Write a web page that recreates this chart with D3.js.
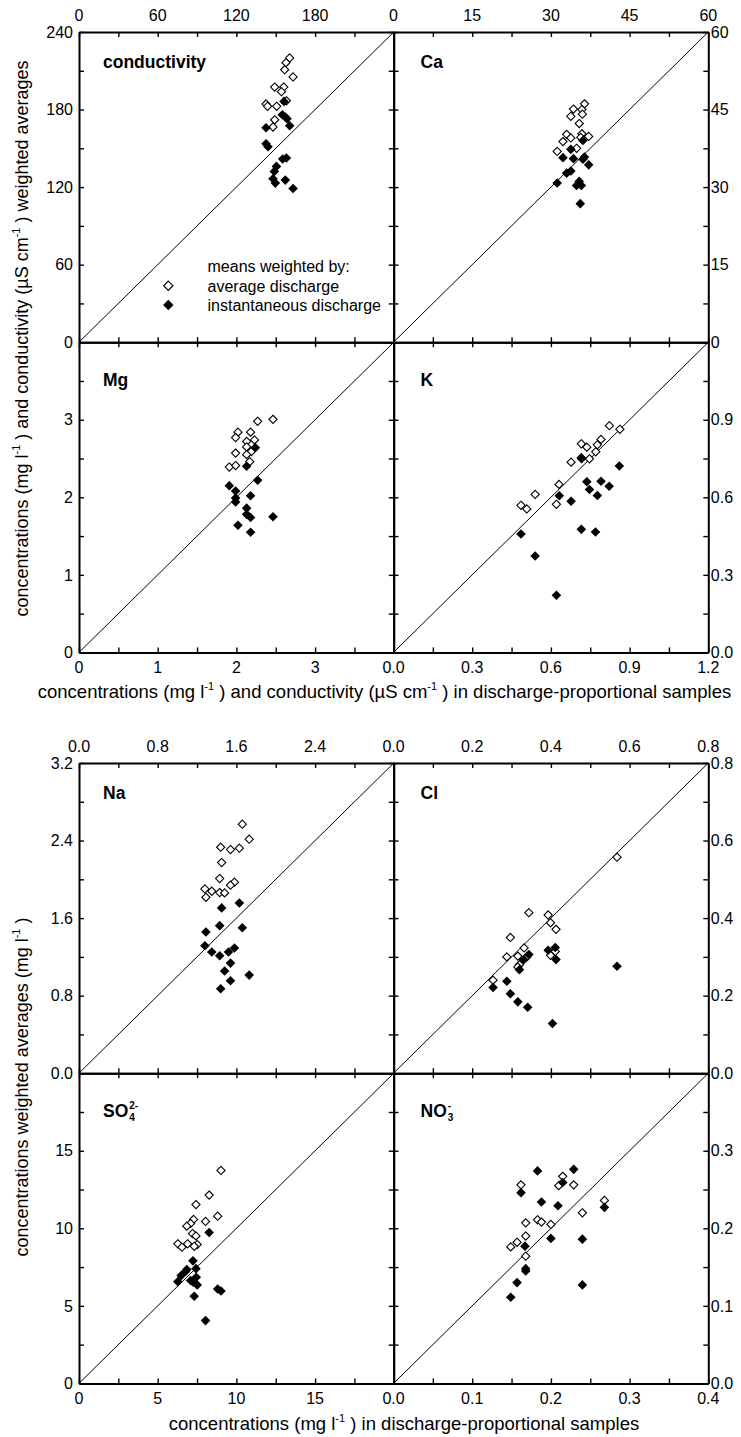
<!DOCTYPE html>
<html><head><meta charset="utf-8">
<script src="https://cdn.jsdelivr.net/npm/d3@7"></script>
<style>
html,body{margin:0;padding:0;background:#fff;}
svg text{font-family:"Liberation Sans",Arial,sans-serif;fill:#000;}
</style></head>
<body>
<svg id="chart" width="741" height="1437"></svg>
<script>
// ---------- data (x: discharge-proportional sample, y: weighted average) ----------
const condAvgX = [160.6,157.8,156.8,163.2,149.2,156.1,154.3,158.1,142.6,143.8,150.7,149.2,147.9];
const condAvgY = [219.9,216.3,210.8,205.2,197.4,197.4,193.8,186.8,184.3,182.5,182.5,172.1,166.5];
const condInstX = [156.3,155.0,157.3,158.6,160.6,142.6,142.6,144.1,155.3,158.1,150.5,148.9,147.9,149.7,157.3,163.2];
const condInstY = [186.3,176.0,174.2,172.9,167.5,165.9,153.5,151.2,141.7,142.5,136.0,132.1,126.5,123.1,125.4,118.9];

const caAvgX = [36.4,34.3,35.9,33.8,36.0,35.4,33.0,32.3,33.8,35.9,35.7,37.2,34.9,31.2];
const caAvgY = [46.1,45.1,45.0,43.7,44.1,42.3,40.2,38.8,39.5,40.3,39.6,39.8,37.5,36.9];
const caInstX = [36.1,33.8,32.3,34.3,36.1,36.4,37.2,33.8,33.0,31.2,35.4,34.9,35.8,35.6];
const caInstY = [39.0,37.3,35.7,35.5,35.4,35.8,34.3,33.1,32.7,30.8,31.1,30.3,30.3,26.8];

const mgAvgX = [2.465,2.27,2.02,2.18,1.99,2.13,2.23,2.13,2.19,1.99,2.13,2.17,1.91,1.99];
const mgAvgY = [3.005,2.98,2.84,2.84,2.77,2.72,2.74,2.65,2.59,2.57,2.55,2.46,2.39,2.41];
const mgInstX = [2.24,2.13,1.91,2.27,1.99,1.99,1.99,2.18,2.13,2.13,2.18,2.465,2.02,2.18];
const mgInstY = [2.64,2.40,2.15,2.22,2.08,1.99,1.94,2.02,1.86,1.78,1.74,1.75,1.64,1.55];

const kAvgX = [0.823,0.863,0.791,0.777,0.716,0.737,0.771,0.716,0.747,0.677,0.631,0.540,0.486,0.508,0.621];
const kAvgY = [0.877,0.863,0.824,0.803,0.807,0.794,0.776,0.753,0.749,0.736,0.650,0.611,0.569,0.555,0.573];
const kInstX = [0.861,0.791,0.737,0.822,0.747,0.777,0.632,0.677,0.716,0.770,0.486,0.540,0.621,0.717];
const kInstY = [0.721,0.662,0.660,0.643,0.630,0.607,0.606,0.585,0.476,0.466,0.458,0.373,0.221,0.749];

const naAvgX = [1.66,1.73,1.44,1.63,1.54,1.45,1.43,1.58,1.54,1.28,1.35,1.43,1.48,1.29];
const naAvgY = [2.569,2.414,2.331,2.321,2.307,2.173,2.008,1.970,1.939,1.901,1.877,1.863,1.860,1.815];
const naInstX = [1.63,1.45,1.43,1.66,1.29,1.28,1.58,1.35,1.52,1.43,1.54,1.48,1.73,1.54,1.44];
const naInstY = [1.756,1.705,1.522,1.501,1.457,1.315,1.291,1.250,1.250,1.212,1.136,1.054,1.012,0.954,0.871];

const clAvgX = [0.568,0.344,0.393,0.399,0.413,0.297,0.332,0.316,0.288,0.339,0.411,0.399,0.320,0.316,0.253];
const clAvgY = [0.557,0.414,0.408,0.388,0.371,0.350,0.323,0.302,0.300,0.300,0.314,0.304,0.280,0.274,0.240];
const clInstX = [0.393,0.411,0.344,0.331,0.320,0.413,0.568,0.253,0.288,0.297,0.316,0.341,0.404];
const clInstY = [0.317,0.324,0.306,0.293,0.267,0.293,0.276,0.221,0.237,0.205,0.184,0.170,0.128];

const so4AvgX = [9.02,8.27,7.43,8.81,7.28,8.04,7.09,6.85,7.21,7.43,6.28,6.54,6.90,7.51,7.32];
const so4AvgY = [13.73,12.14,11.53,10.78,10.57,10.44,10.31,10.14,9.66,9.51,9.00,8.78,9.00,8.95,8.84];
const so4InstX = [8.27,7.24,7.43,6.85,6.77,6.49,7.45,7.09,6.28,7.26,7.51,8.81,9.02,7.32,8.04];
const so4InstY = [9.73,7.90,7.40,7.34,7.21,6.95,6.84,6.63,6.56,6.52,6.35,6.09,5.96,5.62,4.05];

const no3AvgX = [0.215,0.162,0.210,0.229,0.268,0.240,0.168,0.183,0.188,0.200,0.168,0.157,0.149,0.168];
const no3AvgY = [0.267,0.256,0.255,0.256,0.236,0.220,0.207,0.211,0.208,0.205,0.190,0.182,0.176,0.164];
const no3InstX = [0.183,0.229,0.215,0.162,0.188,0.209,0.268,0.200,0.240,0.167,0.168,0.168,0.157,0.240,0.149];
const no3InstY = [0.274,0.276,0.259,0.246,0.234,0.229,0.227,0.187,0.186,0.177,0.148,0.145,0.130,0.127,0.111];

// ---------- axes ----------
const condTicks = [0,60,120,180,240];
const caTicks = [0,15,30,45,60];
const mgTicks = [0,1,2,3,4];
const kTicks = [0,0.3,0.6,0.9,1.2];
const naTicks = [0,0.8,1.6,2.4,3.2];
const clTicks = [0,0.2,0.4,0.6,0.8];
const so4Ticks = [0,5,10,15,20];
const no3Ticks = [0,0.1,0.2,0.3,0.4];

const panelNames = ["conductivity","Ca","Mg","K","Na","Cl","SO4","NO3"];
const legendTitle = "means weighted by:";
const legendItems = ["average discharge","instantaneous discharge"];

// ---------- layout ----------
const svg = d3.select("#chart");
const colX = [79, 393.5];
const pw = 314.8, ph = 310.2;
const groupTop = [32, 763];

const fmtInt = d3.format("d"), fmt1 = d3.format(".1f");
const series = [
  [condTicks, fmtInt, condAvgX, condAvgY, condInstX, condInstY],
  [caTicks, fmtInt, caAvgX, caAvgY, caInstX, caInstY],
  [mgTicks, fmtInt, mgAvgX, mgAvgY, mgInstX, mgInstY],
  [kTicks, fmt1, kAvgX, kAvgY, kInstX, kInstY],
  [naTicks, fmt1, naAvgX, naAvgY, naInstX, naInstY],
  [clTicks, fmt1, clAvgX, clAvgY, clInstX, clInstY],
  [so4Ticks, fmtInt, so4AvgX, so4AvgY, so4InstX, so4InstY],
  [no3Ticks, fmt1, no3AvgX, no3AvgY, no3InstX, no3InstY]
];
const panels = panelNames.map((name,i) => ({
  name, g: Math.floor(i/4), r: Math.floor((i%4)/2), c: i%2,
  ticks: series[i][0], fmt: series[i][1], ax: series[i][2], ay: series[i][3], ix: series[i][4], iy: series[i][5]
}));

function diamond(r){ return `M0,${-r}L${r},0L0,${r}L${-r},0Z`; }

panels.forEach(p => {
  const x0 = colX[p.c], y0 = groupTop[p.g] + p.r*ph;
  const max = p.ticks[p.ticks.length-1];
  const step = p.ticks[1]-p.ticks[0];
  const minor = d3.range(0, p.ticks.length-1).map(i => p.ticks[i] + step/2);
  const x = d3.scaleLinear().domain([0,max]).range([x0, x0+pw]);
  const y = d3.scaleLinear().domain([0,max]).range([y0+ph, y0]);
  const g = svg.append("g");

  const allTicks = p.ticks.concat(minor);
  const tl = 5;
  const mk = (axisFn, scale, transform) => {
    const a = axisFn(scale).tickValues(allTicks).tickSize(tl).tickSizeOuter(0).tickFormat("");
    const ag = g.append("g").attr("transform", transform).call(a);
    ag.select(".domain").attr("stroke","#000").attr("stroke-width",2);
    ag.selectAll(".tick line").attr("stroke","#000").attr("stroke-width",1.4);
  };
  mk(d3.axisTop, x, `translate(0,${y0+ph})`);
  mk(d3.axisBottom, x, `translate(0,${y0})`);
  mk(d3.axisRight, y, `translate(${x0},0)`);
  mk(d3.axisLeft, y, `translate(${x0+pw},0)`);

  // tick labels
  const lab = g.append("g").attr("font-size",16);
  const visible = (dropLast) => p.ticks.filter((t,i) => !(dropLast && i===p.ticks.length-1));
  if (p.r===0) visible(p.c===0).forEach(t => lab.append("text").attr("x",x(t)).attr("y",y0-11.3).attr("text-anchor","middle").text(p.fmt(t)));
  if (p.r===1) visible(p.c===0).forEach(t => lab.append("text").attr("x",x(t)).attr("y",y0+ph+20.5).attr("text-anchor","middle").text(p.fmt(t)));
  if (p.c===0) visible(p.r===1).forEach(t => lab.append("text").attr("x",x0-6).attr("y",y(t)+5.7).attr("text-anchor","end").text(p.fmt(t)));
  if (p.c===1) visible(p.r===1).forEach(t => lab.append("text").attr("x",x0+pw+2.5).attr("y",y(t)+5.7).attr("text-anchor","start").text(p.fmt(t)));

  // 1:1 line
  g.append("line").attr("x1",x(0)).attr("y1",y(0)).attr("x2",x(max)).attr("y2",y(max))
    .attr("stroke","#000").attr("stroke-width",1);

  // points
  g.append("g").selectAll("path").data(d3.zip(p.ax,p.ay)).join("path")
    .attr("d", diamond(4.1)).attr("transform", d => `translate(${x(d[0])},${y(d[1])})`)
    .attr("fill","#fff").attr("stroke","#000").attr("stroke-width",1.1);
  g.append("g").selectAll("path").data(d3.zip(p.ix,p.iy)).join("path")
    .attr("d", diamond(4.8)).attr("transform", d => `translate(${x(d[0])},${y(d[1])})`)
    .attr("fill","#000");

  // panel label
  const lx = x0 + (p.c===0 ? 24 : 27);
  const ly = y0 + (p.r===0 ? 36 : 44);
  const t = g.append("text").attr("x",lx).attr("y",ly).attr("font-size",17.5).attr("font-weight","bold");
  if (p.name==="SO4" || p.name==="NO3") {
    const base = p.name.slice(0,2), sub = p.name.slice(2), sup = p.name==="SO4" ? "2-" : "-";
    t.text(base);
    const w = t.node().getComputedTextLength();
    g.append("text").attr("x",lx+w+1).attr("y",ly+4).attr("font-size",10).attr("font-weight","bold").text(sub);
    g.append("text").attr("x",lx+w+1).attr("y",ly-8).attr("font-size",10).attr("font-weight","bold").text(sup);
  } else t.text(p.name);

  if (p.name==="conductivity") {
    const leg = g.append("g").attr("font-size",16);
    leg.append("text").attr("x",207.5).attr("y",272).text(legendTitle);
    leg.append("text").attr("x",207.5).attr("y",291.5).text(legendItems[0]);
    leg.append("text").attr("x",207.5).attr("y",310.5).text(legendItems[1]);
    leg.append("path").attr("d",diamond(4.6)).attr("transform","translate(168.3,285.7)")
      .attr("fill","#fff").attr("stroke","#000").attr("stroke-width",1.2);
    leg.append("path").attr("d",diamond(5.2)).attr("transform","translate(168.3,305)").attr("fill","#000");
  }
});

// ---------- axis titles ----------
function titleText(sel, parts){
  parts.forEach(pt => {
    if (pt.sup) {
      sel.append("tspan").attr("font-size",11).attr("dy",-8).text(pt.t);
      sel.append("tspan").attr("dy",8).text(" ");
    } else sel.append("tspan").text(pt.t);
  });
}
const xTitle1 = [{t:"concentrations (mg l"},{t:"-1",sup:1},{t:") and conductivity (µS cm"},{t:"-1",sup:1},{t:") in discharge-proportional samples"}];
const yTitle1 = [{t:"concentrations (mg l"},{t:"-1",sup:1},{t:") and conductivity (µS cm"},{t:"-1",sup:1},{t:") weighted averages"}];
const xTitle2 = [{t:"concentrations (mg l"},{t:"-1",sup:1},{t:") in discharge-proportional samples"}];
const yTitle2 = [{t:"concentrations weighted averages (mg l"},{t:"-1",sup:1},{t:")"}];

titleText(svg.append("text").attr("x",384.5).attr("y",697.5).attr("text-anchor","middle").attr("font-size",18.5), xTitle1);
titleText(svg.append("text").attr("x",404).attr("y",1429.5).attr("text-anchor","middle").attr("font-size",18.5), xTitle2);
titleText(svg.append("text").attr("transform",`translate(28,338.5) rotate(-90)`).attr("text-anchor","middle").attr("font-size",18), yTitle1);
titleText(svg.append("text").attr("transform",`translate(28,1087) rotate(-90)`).attr("text-anchor","middle").attr("font-size",18), yTitle2);
</script>
</body></html>
